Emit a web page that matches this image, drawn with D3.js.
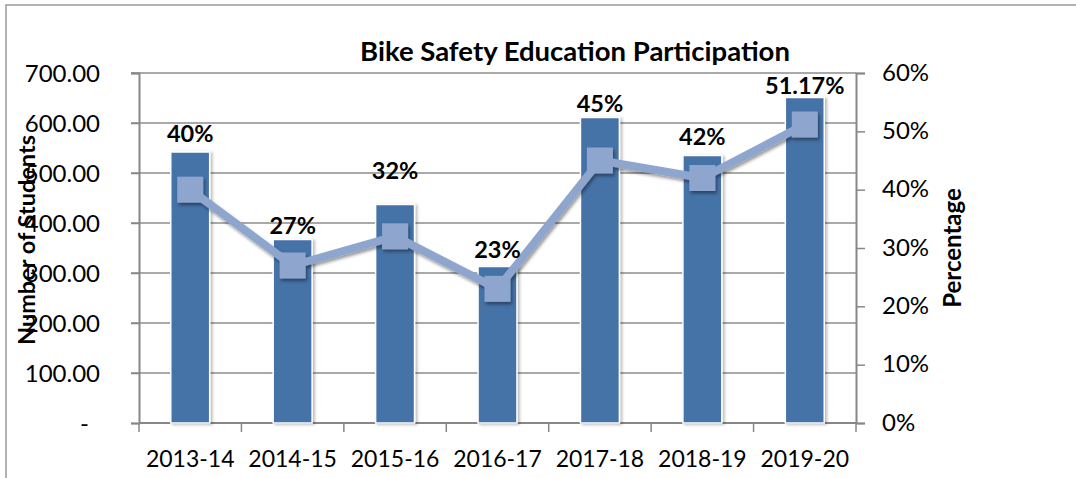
<!DOCTYPE html>
<html>
<head>
<meta charset="utf-8">
<script src="https://cdn.jsdelivr.net/npm/d3@7/dist/d3.min.js"></script>
<style>
  html, body { margin: 0; padding: 0; background: #fff; }
  svg { display: block; font-family: Lato, "Open Sans", sans-serif; }
</style>
</head>
<body>
<svg id="chart" width="1076" height="478"></svg>
<script>
// School years on the category axis
const categories = ["2013-14", "2014-15", "2015-16", "2016-17", "2017-18", "2018-19", "2019-20"];
// Number of students taking part (bars, left axis)
const students = [542, 367, 437, 313, 611, 535, 651];
// Participation rate in percent (line, right axis)
const percentages = [40, 27, 32, 23, 45, 42, 51.17];
// Axis tick values
const studentTicks = [0, 100, 200, 300, 400, 500, 600, 700];
const percentTicks = [0, 10, 20, 30, 40, 50, 60];

// Vertical lift of each percentage label above its point (px)
const labelLift = [48, 32, 57, 31, 49, 33, 31];

const svg = d3.select("#chart");
const W = 1076, H = 478;
const plot = { left: 139, right: 856, top: 73, bottom: 423 };

const BAR = "#4572a7";
const LINE = "#8ea6cd";
const AXIS = "#878787";

// Soft shadows used by bars and line markers
const defs = svg.append("defs");
const barShadow = defs.append("filter").attr("id", "barShadow")
  .attr("x", "-30%").attr("y", "-10%").attr("width", "160%").attr("height", "120%");
barShadow.append("feDropShadow").attr("dx", 2).attr("dy", 1).attr("stdDeviation", 1.6)
  .attr("flood-color", "#000").attr("flood-opacity", 0.28);
const markShadow = defs.append("filter").attr("id", "markShadow")
  .attr("x", "-30%").attr("y", "-30%").attr("width", "170%").attr("height", "170%");
markShadow.append("feDropShadow").attr("dx", 1.5).attr("dy", 2.5).attr("stdDeviation", 1.8)
  .attr("flood-color", "#000").attr("flood-opacity", 0.4);

// Chart frame
svg.append("rect")
  .attr("x", 6).attr("y", 5).attr("width", W + 20).attr("height", H + 20)
  .attr("fill", "none").attr("stroke", "#9a9a9a").attr("stroke-width", 1.5);

// Scales
const x = d3.scaleBand().domain(categories)
  .range([plot.left, plot.right]).paddingInner(0.62).paddingOuter(0.31);
const yLeft = d3.scaleLinear().domain([0, 700]).range([plot.bottom, plot.top]);
const yRight = d3.scaleLinear().domain([0, 60]).range([plot.bottom, plot.top]);
const step = x.step();
const cx = c => x(c) + x.bandwidth() / 2;

// Horizontal gridlines
svg.append("g").selectAll("line").data(studentTicks.filter(t => t > 0)).join("line")
  .attr("x1", plot.left - 8).attr("x2", plot.right)
  .attr("y1", d => yLeft(d)).attr("y2", d => yLeft(d))
  .attr("stroke", "#8c8c8c").attr("stroke-width", 1.5);

// Left axis
const leftAxis = svg.append("g")
  .attr("transform", `translate(${plot.left},0)`)
  .call(d3.axisLeft(yLeft).tickValues(studentTicks).tickSize(8).tickPadding(31)
    .tickFormat(d => d === 0 ? "-" : d3.format(".2f")(d)));
leftAxis.select(".domain").attr("stroke", AXIS).attr("stroke-width", 2);
leftAxis.selectAll(".tick line").attr("stroke", AXIS).attr("stroke-width", 1.5);
leftAxis.selectAll(".tick text")
  .attr("font-size", 24).attr("fill", "#000").attr("font-family", "Lato")
  .attr("dy", "0.36em")
  .attr("dx", d => d === 0 ? -11 : 0);

// Right axis
const rightAxis = svg.append("g")
  .attr("transform", `translate(${plot.right},0)`)
  .call(d3.axisRight(yRight).tickValues(percentTicks).tickSize(9).tickPadding(17)
    .tickFormat(d => d + "%"));
rightAxis.select(".domain").attr("stroke", AXIS).attr("stroke-width", 2);
rightAxis.selectAll(".tick line").attr("stroke", AXIS).attr("stroke-width", 1.5);
rightAxis.selectAll(".tick text")
  .attr("font-size", 24).attr("fill", "#000").attr("font-family", "Lato")
  .attr("dy", "0.3em");

// Bottom axis with ticks on category boundaries
const bottom = svg.append("g");
bottom.append("line")
  .attr("x1", plot.left).attr("x2", plot.right)
  .attr("y1", plot.bottom).attr("y2", plot.bottom)
  .attr("stroke", AXIS).attr("stroke-width", 2);
bottom.selectAll("line.tk").data(d3.range(categories.length + 1)).join("line")
  .attr("class", "tk")
  .attr("x1", i => plot.left + i * step).attr("x2", i => plot.left + i * step)
  .attr("y1", plot.bottom).attr("y2", plot.bottom + 9)
  .attr("stroke", AXIS).attr("stroke-width", 1.5);
bottom.selectAll("text").data(categories).join("text")
  .attr("x", d => cx(d)).attr("y", 467)
  .attr("text-anchor", "middle").attr("font-size", 23).attr("fill", "#000")
  .text(d => d);

// Bars
svg.append("g").selectAll("rect").data(categories).join("rect")
  .attr("x", d => x(d)).attr("width", x.bandwidth())
  .attr("y", (d, i) => yLeft(students[i]))
  .attr("height", (d, i) => plot.bottom - yLeft(students[i]))
  .attr("fill", BAR).attr("stroke", "#fff").attr("stroke-width", 1.5)
  .attr("filter", "url(#barShadow)");

// Percentage line
const pts = categories.map((c, i) => [cx(c), yRight(percentages[i])]);
const lineG = svg.append("g").attr("filter", "url(#markShadow)");
lineG.append("path")
  .attr("d", d3.line()(pts))
  .attr("fill", "none").attr("stroke", LINE).attr("stroke-width", 8)
  .attr("stroke-linejoin", "round");
const M = 26;
lineG.selectAll("rect").data(pts).join("rect")
  .attr("x", d => d[0] - M / 2).attr("y", d => d[1] - M / 2)
  .attr("width", M).attr("height", M)
  .attr("fill", LINE);

// Percentage labels
svg.append("g").selectAll("text").data(categories).join("text")
  .attr("x", d => cx(d))
  .attr("y", (d, i) => yRight(percentages[i]) - labelLift[i])
  .attr("text-anchor", "middle").attr("font-size", 23.5).attr("font-weight", 700)
  .attr("fill", "#000")
  .text((d, i) => percentages[i] + "%");

// Title
svg.append("text")
  .attr("x", 575).attr("y", 61).attr("text-anchor", "middle")
  .attr("font-size", 27.5).attr("font-weight", 700).attr("fill", "#000")
  .text("Bike Safety Education Participation");

// Axis titles
svg.append("text")
  .attr("transform", "translate(35,240) rotate(-90)")
  .attr("text-anchor", "middle").attr("font-size", 23.5).attr("font-weight", 700)
  .attr("fill", "#000")
  .text("Number of Students");
svg.append("text")
  .attr("transform", "translate(961,248) rotate(-90)")
  .attr("text-anchor", "middle").attr("font-size", 24).attr("font-weight", 700)
  .attr("fill", "#000")
  .text("Percentage");
</script>
</body>
</html>
